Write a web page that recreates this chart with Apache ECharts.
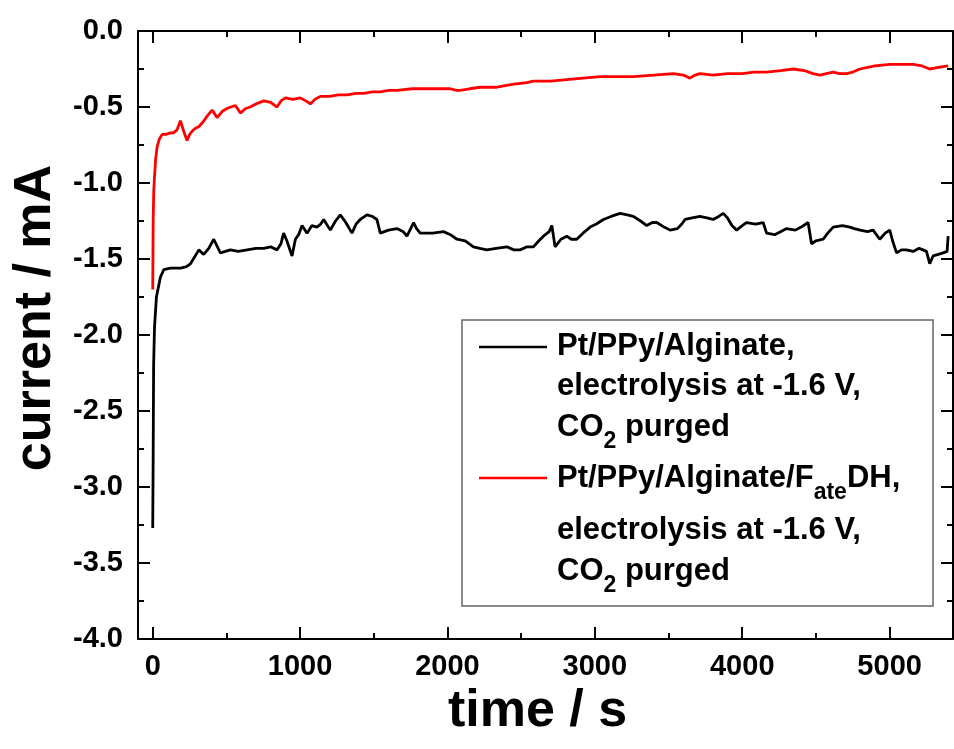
<!DOCTYPE html>
<html>
<head>
<meta charset="utf-8">
<script src="https://cdn.jsdelivr.net/npm/echarts@6/dist/echarts.min.js"></script>
<style>
html,body{margin:0;padding:0;background:#fff;}
#chart{width:954px;height:749px;}
</style>
</head>
<body>
<div id="chart"></div>
<script>
// ---- data ----
var blackTime = [0,3,6,12,25,52,75,120,189,230,257,313,346,380,414,459,527,580,640,700,753,800,843,870,888,910,945,968,990,1013,1047,1080,1114,1140,1160,1205,1240,1273,1310,1352,1380,1408,1453,1490,1521,1544,1600,1657,1700,1725,1750,1770,1790,1815,1900,1973,2020,2064,2120,2176,2220,2267,2330,2403,2450,2493,2540,2583,2620,2651,2690,2708,2730,2770,2809,2840,2877,2920,2968,3010,3058,3110,3171,3220,3261,3310,3352,3390,3420,3470,3510,3560,3590,3612,3660,3713,3760,3803,3840,3871,3900,3930,3962,4000,4030,4090,4142,4165,4220,4260,4301,4360,4400,4447,4470,4500,4549,4580,4617,4680,4730,4760,4800,4850,4888,4933,4970,5001,5020,5047,5080,5114,5160,5200,5227,5250,5272,5295,5330,5363,5390,5397];
var blackCurrent = [-3.27,-2.8,-2.2,-1.95,-1.75,-1.62,-1.57,-1.56,-1.56,-1.55,-1.53,-1.44,-1.47,-1.43,-1.37,-1.46,-1.44,-1.45,-1.44,-1.43,-1.43,-1.42,-1.44,-1.40,-1.33,-1.38,-1.48,-1.37,-1.34,-1.28,-1.33,-1.28,-1.29,-1.27,-1.24,-1.31,-1.25,-1.21,-1.26,-1.33,-1.27,-1.24,-1.21,-1.22,-1.24,-1.33,-1.31,-1.30,-1.32,-1.35,-1.30,-1.26,-1.30,-1.33,-1.33,-1.32,-1.34,-1.37,-1.38,-1.42,-1.43,-1.44,-1.43,-1.42,-1.44,-1.44,-1.42,-1.42,-1.38,-1.35,-1.32,-1.28,-1.42,-1.37,-1.35,-1.37,-1.37,-1.33,-1.29,-1.27,-1.24,-1.22,-1.20,-1.21,-1.22,-1.25,-1.28,-1.26,-1.26,-1.29,-1.31,-1.30,-1.27,-1.24,-1.23,-1.22,-1.23,-1.24,-1.22,-1.20,-1.23,-1.28,-1.31,-1.28,-1.26,-1.27,-1.26,-1.33,-1.34,-1.32,-1.30,-1.31,-1.29,-1.26,-1.40,-1.38,-1.37,-1.33,-1.29,-1.28,-1.29,-1.30,-1.31,-1.32,-1.31,-1.37,-1.33,-1.31,-1.38,-1.46,-1.44,-1.44,-1.45,-1.43,-1.44,-1.45,-1.53,-1.48,-1.47,-1.46,-1.45,-1.35];

var redTime = [0,3,7,12,20,30,45,64,90,120,140,165,188,210,233,250,267,290,312,340,369,403,437,470,504,530,561,595,630,662,700,753,800,843,870,900,950,1001,1040,1069,1100,1137,1200,1260,1318,1380,1431,1490,1544,1600,1657,1760,1883,1960,2019,2060,2086,2150,2220,2335,2450,2538,2583,2700,2809,2920,3035,3150,3261,3400,3532,3600,3645,3680,3713,3803,3900,4000,4080,4165,4260,4346,4420,4480,4527,4570,4617,4660,4708,4750,4798,4900,5001,5080,5160,5220,5272,5330,5397];
var redCurrent = [-1.70,-1.24,-1.05,-0.96,-0.84,-0.76,-0.71,-0.68,-0.68,-0.67,-0.67,-0.65,-0.59,-0.66,-0.72,-0.68,-0.66,-0.64,-0.63,-0.60,-0.56,-0.52,-0.57,-0.53,-0.51,-0.50,-0.49,-0.54,-0.51,-0.50,-0.48,-0.46,-0.47,-0.50,-0.46,-0.44,-0.45,-0.44,-0.46,-0.48,-0.45,-0.43,-0.43,-0.42,-0.42,-0.41,-0.41,-0.40,-0.40,-0.39,-0.39,-0.38,-0.38,-0.38,-0.38,-0.39,-0.39,-0.38,-0.37,-0.37,-0.35,-0.34,-0.33,-0.33,-0.32,-0.31,-0.30,-0.30,-0.30,-0.29,-0.28,-0.29,-0.31,-0.29,-0.28,-0.29,-0.28,-0.28,-0.27,-0.27,-0.26,-0.25,-0.26,-0.28,-0.29,-0.28,-0.27,-0.28,-0.28,-0.27,-0.25,-0.23,-0.22,-0.22,-0.22,-0.23,-0.25,-0.24,-0.23];

var xMajorTicks = [0,1000,2000,3000,4000,5000];
var xMinorTicks = [500,1500,2500,3500,4500];
var seriesNames = ['Pt/PPy/Alginate', 'Pt/PPy/Alginate/FateDH'];

function zip(a, b) { var out = []; for (var i = 0; i < a.length; i++) out.push([a[i], b[i]]); return out; }

var FONT = '"Liberation Sans", Arial, Helvetica, sans-serif';
var X_MIN = -100, X_MAX = 5430;

function xAxisCfg(pos, ticks, len, withLabels, withLine) {
  return {
    type: 'value', min: X_MIN, max: X_MAX, position: pos,
    axisLine: { show: withLine, onZero: false, lineStyle: { color: '#000', width: 2 } },
    axisTick: { show: true, inside: true, length: len, customValues: ticks, lineStyle: { color: '#000', width: 2 } },
    axisLabel: withLabels ? { show: true, customValues: ticks, fontSize: 29, fontWeight: 'bold', fontFamily: FONT, color: '#000', margin: 13, formatter: function (v) { return String(v); } } : { show: false },
    splitLine: { show: false }
  };
}
function yAxisCfg(pos, withLabels) {
  return {
    type: 'value', min: -4, max: 0, interval: 0.5, position: pos,
    axisLine: { show: true, onZero: false, lineStyle: { color: '#000', width: 2 } },
    axisTick: { show: true, inside: true, length: 12, lineStyle: { color: '#000', width: 2 } },
    minorTick: { show: true, splitNumber: 2, length: 6, lineStyle: { color: '#000', width: 2 } },
    axisLabel: withLabels ? { show: true, fontSize: 29, fontWeight: 'bold', fontFamily: FONT, color: '#000', margin: 15, formatter: function (v) { return v.toFixed(1); } } : { show: false },
    splitLine: { show: false }
  };
}

var xMain = xAxisCfg('bottom', xMajorTicks, 12, true, true);
xMain.name = 'time / s';
xMain.nameLocation = 'middle';
xMain.nameGap = 43;
xMain.nameTextStyle = { fontSize: 52, fontWeight: 'bold', fontFamily: FONT, color: '#000', padding: [0, 16, 0, 0] };

var yMain = yAxisCfg('left', true);
yMain.name = 'current / mA';
yMain.nameLocation = 'middle';
yMain.nameGap = 71;
yMain.nameTextStyle = { fontSize: 52, fontWeight: 'bold', fontFamily: FONT, color: '#000', padding: [0, 0, 0, 34] };

var rich = {
  n: { fontSize: 31, fontWeight: 'bold', fontFamily: FONT, lineHeight: 31 },
  s: { fontSize: 23, fontWeight: 'bold', fontFamily: FONT, lineHeight: 2, height: 2, verticalAlign: 'bottom' }
};
function legText(txt, x, y) {
  return { type: 'text', z: 101, style: { text: txt, x: x, y: y, verticalAlign: 'middle', fill: '#000', font: 'bold 31px ' + FONT, rich: rich } };
}

var chart = echarts.init(document.getElementById('chart'), null, { renderer: 'canvas' });
chart.setOption({
  backgroundColor: '#fff',
  animation: false,
  grid: { left: 138, right: 1, top: 31, bottom: 110, containLabel: false },
  xAxis: [
    xMain,
    xAxisCfg('bottom', xMinorTicks, 6, false, false),
    xAxisCfg('top', xMajorTicks, 12, false, true),
    xAxisCfg('top', xMinorTicks, 6, false, false)
  ],
  yAxis: [yMain, yAxisCfg('right', false)],
  series: [
    { name: seriesNames[0], type: 'line', xAxisIndex: 0, yAxisIndex: 0, data: zip(blackTime, blackCurrent), showSymbol: false, symbol: 'none', lineStyle: { color: '#000', width: 2.8 }, itemStyle: { color: '#000' }, z: 3 },
    { name: seriesNames[1], type: 'line', xAxisIndex: 0, yAxisIndex: 0, data: zip(redTime, redCurrent), showSymbol: false, symbol: 'none', lineStyle: { color: '#ff0000', width: 2.8 }, itemStyle: { color: '#ff0000' }, z: 4 }
  ],
  graphic: [
    { type: 'rect', z: 100, shape: { x: 462, y: 320, width: 471, height: 286 }, style: { fill: '#fff', stroke: '#666', lineWidth: 1.5 } },
    { type: 'line', z: 101, shape: { x1: 479, y1: 347, x2: 547, y2: 347 }, style: { stroke: '#000', lineWidth: 2.5 } },
    { type: 'line', z: 101, shape: { x1: 479, y1: 478, x2: 547, y2: 478 }, style: { stroke: '#ff0000', lineWidth: 2.5 } },
    legText('{n|Pt/PPy/Alginate,}', 557, 346),
    legText('{n|electrolysis at -1.6 V,}', 557, 386),
    legText('{n|CO}{s|2}{n| purged}', 557, 427),
    legText('{n|Pt/PPy/Alginate/F}{s|ate}{n|DH,}', 557, 478),
    legText('{n|electrolysis at -1.6 V,}', 557, 530),
    legText('{n|CO}{s|2}{n| purged}', 557, 571)
  ]
});
</script>
</body>
</html>
